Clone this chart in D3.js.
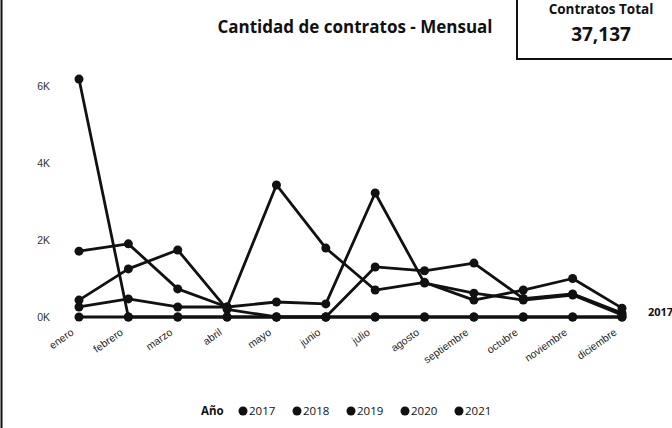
<!DOCTYPE html>
<html>
<head>
<meta charset="utf-8">
<script src="https://cdn.jsdelivr.net/npm/d3@7"></script>
<style>
  body { margin: 0; background: #fff; }
  svg { display: block; font-family: "Open Sans", sans-serif; }
</style>
</head>
<body>
<div id="chart"></div>
<script>
// meses y series (contratos por mes)
var meses = ["enero", "febrero", "marzo", "abril", "mayo", "junio", "julio",
             "agosto", "septiembre", "octubre", "noviembre", "diciembre"];
var anios = ["2017", "2018", "2019", "2020", "2021"];
var s2017 = [0, 0, 0, 0, 0, 0, 1300, 1200, 1400, 480, 600, 100];
var s2018 = [1710, 1900, 730, 260, 3430, 1790, 700, 900, 440, 700, 1000, 230];
var s2019 = [260, 470, 260, 260, 390, 340, 3220, 880, 620, 440, 570, 50];
var s2020 = [6180, 0, 0, 0, 0, 0, 0, 0, 0, 0, 0, 0];
var s2021 = [440, 1250, 1740, 200, 0, 0, 0, 0, 0, 0, 0, 0];
var yTicks = [0, 2000, 4000, 6000];
var totalContratos = "37,137";

var width = 672,
    height = 428;

var series = [s2017, s2018, s2019, s2020, s2021].map(function(v, i) {
    return { anio: anios[i], values: v };
});

var svg = d3.select("#chart").append("svg")
    .attr("width", width)
    .attr("height", height);

// marco izquierdo
svg.append("line")
    .attr("x1", 1.5).attr("x2", 1.5)
    .attr("y1", 0).attr("y2", height)
    .attr("stroke", "#111").attr("stroke-width", 2);

svg.append("text")
    .attr("x", 355).attr("y", 33)
    .attr("text-anchor", "middle")
    .style("font-size", "17px").style("font-weight", 700)
    .attr("fill", "#111")
    .text("Cantidad de contratos - Mensual");

// tarjeta total
var card = svg.append("g");
card.append("rect")
    .attr("x", 517).attr("y", -4)
    .attr("width", 170).attr("height", 63)
    .attr("fill", "#fff").attr("stroke", "#111").attr("stroke-width", 2);
card.append("text")
    .attr("x", 601).attr("y", 14)
    .attr("text-anchor", "middle")
    .style("font-size", "13.5px").style("font-weight", 700)
    .attr("fill", "#111")
    .text("Contratos Total");
card.append("text")
    .attr("x", 601).attr("y", 41)
    .attr("text-anchor", "middle")
    .style("font-size", "19px").style("font-weight", 700)
    .attr("fill", "#111")
    .text(totalContratos);

var x = d3.scalePoint()
    .domain(meses)
    .range([79, 622]);

var y = d3.scaleLinear()
    .domain([0, 6000])
    .range([317, 86]);

var yAxis = svg.append("g")
    .attr("transform", "translate(50,0)")
    .call(d3.axisLeft(y).tickValues(yTicks).tickSize(0).tickPadding(0)
        .tickFormat(function(d) { return (d / 1000) + "K"; }));
yAxis.select(".domain").remove();
yAxis.selectAll("text")
    .style("font-size", "10.5px")
    .attr("fill", "#333");

var xAxis = svg.append("g")
    .attr("transform", "translate(0,317)")
    .call(d3.axisBottom(x).tickSize(0).tickPadding(0));
xAxis.select(".domain").remove();
xAxis.selectAll("text")
    .style("font-size", "10.5px")
    .attr("fill", "#222")
    .attr("text-anchor", "end")
    .attr("dy", 0)
    .attr("transform", "translate(-5,17) rotate(-35)");

var line = d3.line()
    .x(function(d, i) { return x(meses[i]); })
    .y(function(d) { return y(d); });

var serie = svg.selectAll(".serie")
    .data(series)
    .enter().append("g")
    .attr("class", "serie");

serie.append("path")
    .attr("d", function(d) { return line(d.values); })
    .attr("fill", "none")
    .attr("stroke", "#111")
    .attr("stroke-width", 2.8)
    .attr("stroke-linejoin", "round");

serie.selectAll("circle")
    .data(function(d) { return d.values; })
    .enter().append("circle")
    .attr("cx", function(d, i) { return x(meses[i]); })
    .attr("cy", function(d) { return y(d); })
    .attr("r", 4.5)
    .attr("fill", "#111");

// etiqueta al final
svg.append("text")
    .attr("x", 648).attr("y", 316)
    .style("font-size", "11px").style("font-weight", 700)
    .attr("fill", "#111")
    .text("2017");

// leyenda
var legend = svg.append("g")
    .attr("transform", "translate(201,411)");
legend.append("text")
    .attr("x", 0).attr("y", 4)
    .style("font-size", "11.5px").style("font-weight", 700)
    .attr("fill", "#111")
    .text("Año");
var item = legend.selectAll(".item")
    .data(anios)
    .enter().append("g")
    .attr("class", "item")
    .attr("transform", function(d, i) { return "translate(" + (42 + i * 54) + ",0)"; });
item.append("circle")
    .attr("r", 4.5)
    .attr("fill", "#111");
item.append("text")
    .attr("x", 6).attr("y", 4)
    .style("font-size", "11.5px")
    .attr("fill", "#111")
    .text(function(d) { return d; });
</script>
</body>
</html>
